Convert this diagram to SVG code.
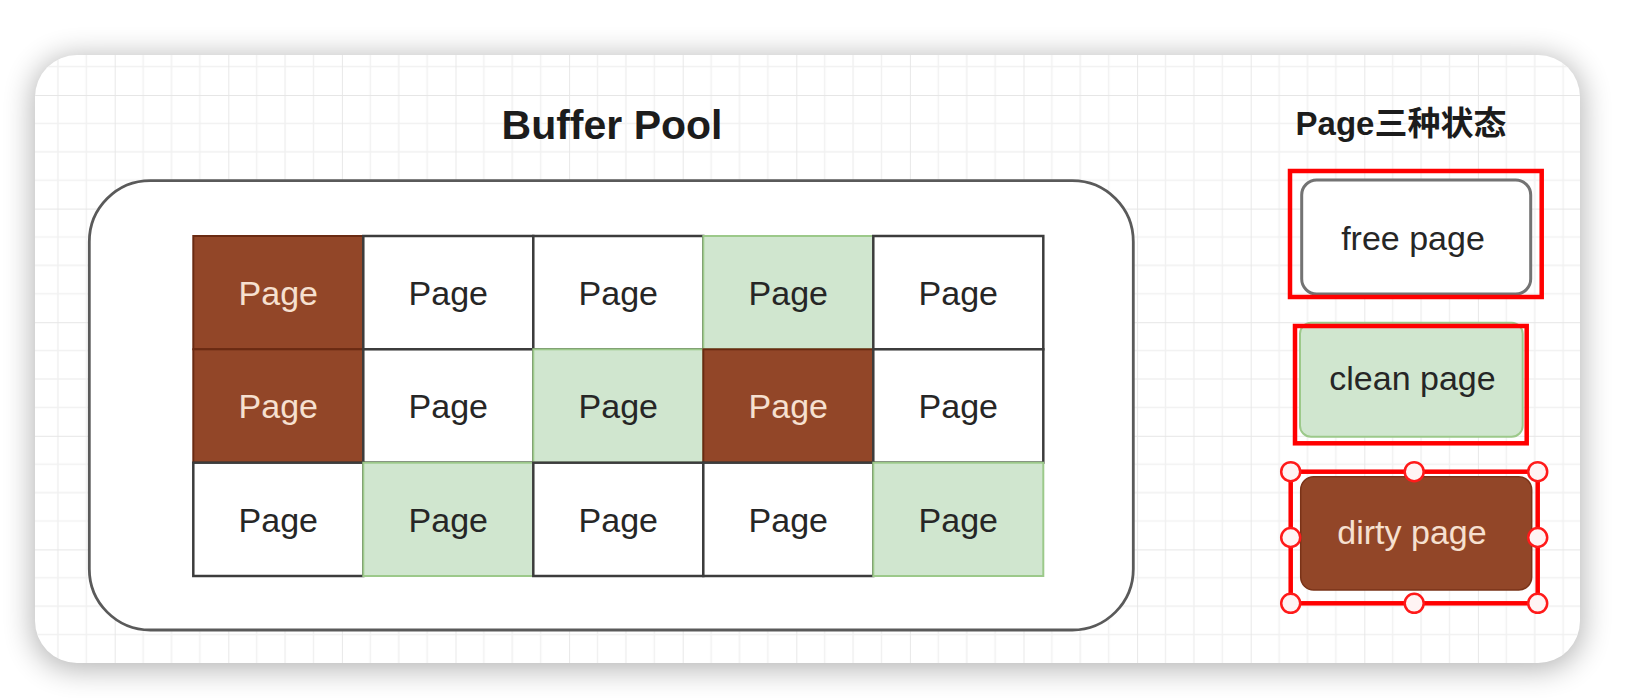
<svg xmlns="http://www.w3.org/2000/svg" width="1640" height="698" viewBox="0 0 1640 698">
  <defs>
    <style>
      text { font-family: "Liberation Sans", Arial, "Noto Sans CJK SC", sans-serif; }
      .title { font-size: 41px; font-weight: bold; fill: #1c1c1c; text-anchor: middle; }
      .subtitle { font-size: 33px; font-weight: bold; fill: #1c1c1c; text-anchor: middle; }
      .lbl { font-size: 34px; text-anchor: middle; fill: #262626; }
      .lbl-dirty { font-size: 34px; text-anchor: middle; fill: #f6e0d0; }
      .free { fill: #ffffff; stroke: #3c3c3c; stroke-width: 2.5; }
      .clean { fill: #d0e6cf; stroke: #9cc98a; stroke-width: 2; }
      .dirty { fill: #924628; stroke: #6a2a12; stroke-width: 2; }
      .sel { fill: none; stroke: #ff0000; stroke-width: 4.5; }
      .handle { fill: #fff4f4; stroke: #ff1a1a; stroke-width: 2.5; }
    </style>
    <pattern id="grid" patternUnits="userSpaceOnUse" x="1.1" y="95" width="113.6" height="113.6">
      <path d="M28.4 0V113.6M56.8 0V113.6M85.2 0V113.6M0 28.4H113.6M0 56.8H113.6M0 85.2H113.6" stroke="#f1f1f1" stroke-width="1.5" fill="none"/>
      <path d="M0 0V113.6M0 0H113.6" stroke="#e6e6e6" stroke-width="1.8" fill="none"/>
    </pattern>
    <filter id="shadow" x="-10%" y="-20%" width="120%" height="140%">
      <feGaussianBlur stdDeviation="15"/>
    </filter>
  </defs>

  <rect width="1640" height="698" fill="#ffffff"/>

  <!-- card -->
  <g id="card">
    <rect x="33" y="57" width="1549" height="612" rx="42" fill="#000" opacity="0.3" filter="url(#shadow)"/>
    <rect x="35" y="55" width="1545" height="608" rx="42" fill="#ffffff"/>
    <rect x="35" y="55" width="1545" height="608" rx="42" fill="url(#grid)"/>
  </g>

  <g id="title-buffer-pool">
    <text class="title" x="612" y="139">Buffer Pool</text>
  </g>

  <g id="buffer-pool">
    <rect x="89.3" y="180.7" width="1044" height="449.3" rx="61" fill="#ffffff" stroke="#5a5a5a" stroke-width="2.8"/>
  </g>

  <!-- pages grid: row-major -->
  <g id="page-r1c1"><rect class="dirty" x="193.3" y="236" width="170" height="113.3"/><text class="lbl-dirty" x="278.3" y="305">Page</text></g>
  <g id="page-r1c2"><rect class="free" x="363.3" y="236" width="170" height="113.3"/><text class="lbl" x="448.3" y="305">Page</text></g>
  <g id="page-r1c3"><rect class="free" x="533.3" y="236" width="170" height="113.3"/><text class="lbl" x="618.3" y="305">Page</text></g>
  <g id="page-r1c4"><rect class="clean" x="703.3" y="236" width="170" height="113.3"/><text class="lbl" x="788.3" y="305">Page</text></g>
  <g id="page-r1c5"><rect class="free" x="873.3" y="236" width="170" height="113.3"/><text class="lbl" x="958.3" y="305">Page</text></g>

  <g id="page-r2c1"><rect class="dirty" x="193.3" y="349.3" width="170" height="113.3"/><text class="lbl-dirty" x="278.3" y="418.3">Page</text></g>
  <g id="page-r2c2"><rect class="free" x="363.3" y="349.3" width="170" height="113.3"/><text class="lbl" x="448.3" y="418.3">Page</text></g>
  <g id="page-r2c3"><rect class="clean" x="533.3" y="349.3" width="170" height="113.3"/><text class="lbl" x="618.3" y="418.3">Page</text></g>
  <g id="page-r2c4"><rect class="dirty" x="703.3" y="349.3" width="170" height="113.3"/><text class="lbl-dirty" x="788.3" y="418.3">Page</text></g>
  <g id="page-r2c5"><rect class="free" x="873.3" y="349.3" width="170" height="113.3"/><text class="lbl" x="958.3" y="418.3">Page</text></g>

  <g id="page-r3c1"><rect class="free" x="193.3" y="462.7" width="170" height="113.3"/><text class="lbl" x="278.3" y="531.7">Page</text></g>
  <g id="page-r3c2"><rect class="clean" x="363.3" y="462.7" width="170" height="113.3"/><text class="lbl" x="448.3" y="531.7">Page</text></g>
  <g id="page-r3c3"><rect class="free" x="533.3" y="462.7" width="170" height="113.3"/><text class="lbl" x="618.3" y="531.7">Page</text></g>
  <g id="page-r3c4"><rect class="free" x="703.3" y="462.7" width="170" height="113.3"/><text class="lbl" x="788.3" y="531.7">Page</text></g>
  <g id="page-r3c5"><rect class="clean" x="873.3" y="462.7" width="170" height="113.3"/><text class="lbl" x="958.3" y="531.7">Page</text></g>

  <g id="title-states">
    <text class="subtitle" x="1401" y="135">Page三种状态</text>
  </g>

  <g id="legend-free">
    <rect x="1301.7" y="180" width="229" height="114" rx="15" fill="#ffffff" stroke="#737373" stroke-width="3"/>
    <rect class="sel" x="1290" y="171" width="251.7" height="126"/>
    <text class="lbl" x="1413" y="250">free page</text>
  </g>

  <g id="legend-clean">
    <rect x="1300" y="322.7" width="222.7" height="114" rx="11" fill="#d0e6cf" stroke="#9cc98a" stroke-width="2"/>
    <rect class="sel" x="1295" y="326" width="231.7" height="117.3"/>
    <text class="lbl" x="1412.5" y="390">clean page</text>
  </g>

  <g id="legend-dirty">
    <rect x="1300.7" y="476.7" width="231" height="113.3" rx="13" fill="#924628" stroke="#7a3318" stroke-width="1.5"/>
    <text class="lbl-dirty" x="1412" y="544">dirty page</text>
    <rect class="sel" x="1290.7" y="471.7" width="247" height="131.6"/>
    <circle class="handle" cx="1290.7" cy="471.7" r="9.5"/>
    <circle class="handle" cx="1414.2" cy="471.7" r="9.5"/>
    <circle class="handle" cx="1537.7" cy="471.7" r="9.5"/>
    <circle class="handle" cx="1290.7" cy="537.5" r="9.5"/>
    <circle class="handle" cx="1537.7" cy="537.5" r="9.5"/>
    <circle class="handle" cx="1290.7" cy="603.3" r="9.5"/>
    <circle class="handle" cx="1414.2" cy="603.3" r="9.5"/>
    <circle class="handle" cx="1537.7" cy="603.3" r="9.5"/>
  </g>

  <g id="connectors"></g>
</svg>
